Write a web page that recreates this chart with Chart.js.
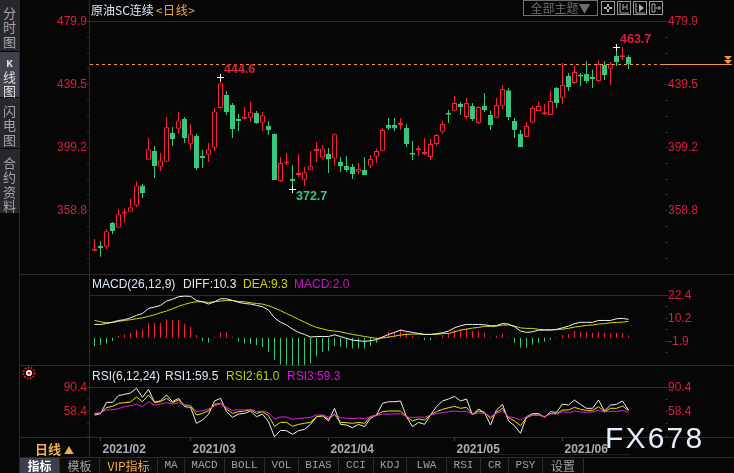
<!DOCTYPE html>
<html lang="zh">
<head>
    <meta charset="UTF-8">
    <title>原油SC连续 日线</title>
    <script src="https://cdn.jsdelivr.net/npm/chart.js"></script>
    <style>
        html, body { margin: 0; padding: 0; background: #060606; width: 734px; height: 473px; overflow: hidden; }
        body { position: relative; font-family: "Liberation Sans", Arial, sans-serif; font-size: 12px; }
        canvas { position: absolute; left: 0; }
        .abs { position: absolute; white-space: nowrap; }
        .hline { position: absolute; height: 1px; background: #2b2b2b; }
        .vline { position: absolute; width: 1px; background: #2b2b2b; }
        .side { position: absolute; left: 0; width: 19px; background: #26282d; color: #a4a4a4; text-align: center;
                font-family: "Noto Sans CJK SC"; font-size: 13px; line-height: 14.4px; box-sizing: border-box; }
        .tab { position: absolute; top: 458px; height: 15px; line-height: 15px; text-align: center; color: #a0a0a0;
               font-family: "Liberation Mono", monospace; font-size: 11px; border-right: 1px solid #2b2b2b; background: #0c0c0c; }
        .tab.cjk { font-family: "Noto Sans CJK SC"; font-size: 12px; }
        .ico { position: absolute; top: 1px; width: 12px; height: 12px; border: 1px solid #9a9a9a; }
    </style>
</head>
<body>
    <canvas id="mainChart" width="734" height="274" style="top:0"></canvas>
    <canvas id="macdChart" width="734" height="90" style="top:275px"></canvas>
    <canvas id="rsiChart" width="734" height="92" style="top:365px"></canvas>

    <div class="vline" style="left:89px;top:0;height:457px"></div>
    <div class="vline" style="left:19px;top:0;height:473px"></div>
    <div class="hline" style="left:20px;top:274px;width:714px"></div>
    <div class="hline" style="left:20px;top:365px;width:714px"></div>
    <div class="hline" style="left:20px;top:437px;width:714px"></div>
    <div class="hline" style="left:20px;top:457px;width:714px"></div>
    <div class="hline" style="left:493px;top:454px;width:137px;background:#222"></div>

    <div class="side" style="top:0;height:51px;padding-top:6px">分<br>时<br>图</div>
    <div class="side" style="top:52px;height:45px;background:#3f424a;color:#ddd;padding-top:3px"><b style="font:bold 11px 'Liberation Mono'">K</b><br>线<br>图</div>
    <div class="side" style="top:98px;height:50px;padding-top:6px">闪<br>电<br>图</div>
    <div class="side" style="top:149px;height:64px;padding-top:7px">合<br>约<br>资<br>料</div>

    <div class="abs" style="left:91px;top:2px;color:#dce8f4;font-family:'Noto Sans CJK SC';font-size:12px;line-height:15px">原油SC连续<span style="color:#f0a848;margin-left:2px;letter-spacing:0.6px">&lt;日线&gt;</span></div>

    <div class="abs" style="left:523px;top:0;width:73px;height:14px;border:1px solid #707070;color:#6c6c6c;font-family:'Noto Sans CJK SC';font-size:12px;line-height:14px;text-align:center">全部主题▼</div>
    <div class="ico" style="left:601px"><svg width="12" height="12"><path d="M6 2v3M6 7v3M2 6h3M7 6h3" stroke="#aaa" stroke-width="2"/></svg></div>
    <div class="ico" style="left:617px"><svg width="12" height="12"><path d="M2 1v10h9M5 2v6M9 2v6M5 5h4" stroke="#aaa" fill="none"/></svg></div>
    <div class="ico" style="left:633px"><svg width="12" height="12"><path d="M2 1v10h9" stroke="#aaa" fill="none"/><path d="M5 2l5 4-5 4z" fill="#aaa"/></svg></div>
    <div class="ico" style="left:649px"><svg width="12" height="12"><path d="M2 2h3v8h-3zM6 6h5M9 4v4" stroke="#aaa" fill="none"/></svg></div>

    <div class="abs" style="left:92px;top:277px;line-height:14px"><span style="color:#dce8f4">MACD(26,12,9)</span></div>
    <div class="abs" style="left:183px;top:277px;line-height:14px;color:#dce8f4">DIFF:10.3</div>
    <div class="abs" style="left:243px;top:277px;line-height:14px;color:#d4d400">DEA:9.3</div>
    <div class="abs" style="left:294px;top:277px;line-height:14px;color:#d010d0">MACD:2.0</div>

    <svg class="abs" style="left:22px;top:366px" width="15" height="14"><circle cx="7" cy="7" r="5.5" fill="none" stroke="#e02020" stroke-dasharray="1.5 1.5" stroke-width="2"/><circle cx="7" cy="7" r="3" fill="#fff"/><circle cx="7" cy="7" r="1.5" fill="#e02020"/></svg>
    <div class="abs" style="left:92px;top:369px;line-height:14px;color:#dce8f4">RSI(6,12,24)</div>
    <div class="abs" style="left:165px;top:369px;line-height:14px;color:#dce8f4">RSI1:59.5</div>
    <div class="abs" style="left:226px;top:369px;line-height:14px;color:#b4d400">RSI2:61.0</div>
    <div class="abs" style="left:287px;top:369px;line-height:14px;color:#e010e0">RSI3:59.3</div>

    <div class="abs" style="left:35px;top:440px;color:#f0b050;font-family:'Noto Sans CJK SC';font-weight:bold;font-size:13px;line-height:18px">日线 <span style="font-size:10px">▲</span></div>

    <div class="tab cjk" style="left:20px;width:39px;background:#3b3f4a;color:#fff;font-weight:bold">指标</div>
    <div class="tab cjk" style="left:60px;width:39px">模板</div>
    <div class="tab cjk" style="left:100px;width:57px;color:#f0b050">VIP指标</div>
    <div class="tab" style="left:158px;width:26px">MA</div>
    <div class="tab" style="left:185px;width:39px">MACD</div>
    <div class="tab" style="left:225px;width:39px">BOLL</div>
    <div class="tab" style="left:265px;width:33px">VOL</div>
    <div class="tab" style="left:299px;width:39px">BIAS</div>
    <div class="tab" style="left:339px;width:34px">CCI</div>
    <div class="tab" style="left:374px;width:32px">KDJ</div>
    <div class="tab" style="left:407px;width:39px">LWA</div>
    <div class="tab" style="left:447px;width:33px">RSI</div>
    <div class="tab" style="left:481px;width:27px">CR</div>
    <div class="tab" style="left:509px;width:33px">PSY</div>
    <div class="tab cjk" style="left:543px;width:40px">设置</div>

    <div class="abs" style="left:605px;top:420px;color:#e4eefa;font-size:30px;letter-spacing:2.2px;line-height:36px">FX678</div>

    <script>
        // 日K线数据 (开/高/低/收)
        const opens = [333.2,335.8,335.8,350.9,348.0,357.1,358.2,362.0,375.0,391.5,397.0,387.0,390.2,408.5,411.3,417.5,401.7,406.6,393.0,394.7,399.1,424.5,432.9,426.5,416.6,417.7,418.4,421.3,415.1,413.0,407.9,377.8,389.1,378.2,381.7,378.7,385.1,397.0,392.8,395.1,392.3,390.0,387.4,386.8,383.8,384.9,387.6,393.4,397.2,413.7,413.7,413.7,411.7,395.1,397.5,395.1,393.2,401.5,409.4,420.7,422.8,427.1,418.8,425.8,414.9,425.8,420.1,418.4,426.0,436.0,416.2,407.9,406.0,415.1,422.6,420.5,420.1,437.3,431.2,445.0,440.6,445.2,446.3,443.5,441.8,452.1,449.7,457.8,457.0,457.2];
        const highs = [340.7,339.4,346.9,351.6,359.7,360.3,366.7,377.6,375.9,405.3,400.2,395.7,418.8,412.4,422.0,418.8,414.3,407.9,397.7,402.1,424.5,444.6,435.4,427.7,420.7,425.2,428.4,422.6,422.0,416.2,408.3,393.2,395.7,388.1,395.1,386.8,397.0,402.8,400.9,398.9,408.3,393.2,393.8,388.7,389.3,393.2,394.5,398.3,411.7,418.1,418.1,418.1,414.3,403.4,400.2,405.3,404.7,407.9,416.2,423.3,432.2,428.4,430.9,427.7,425.8,434.1,423.0,430.9,439.3,437.3,418.1,410.5,415.6,425.8,428.4,427.1,436.0,438.0,453.3,446.9,451.4,446.9,454.6,448.9,455.3,454.6,454.0,463.7,463.6,458.5];
        const lows = [332.6,329.4,334.3,343.9,347.7,351.2,358.2,361.2,366.9,391.5,379.7,384.2,390.2,400.2,407.9,402.1,397.7,384.9,386.1,390.0,397.0,423.9,420.1,405.3,409.8,417.5,415.6,414.3,409.8,407.3,378.5,377.2,388.1,372.7,380.4,374.6,385.1,390.0,391.9,382.9,387.4,383.6,383.6,379.1,382.3,381.7,386.1,389.3,397.2,410.5,409.8,410.5,399.6,391.3,393.8,394.5,391.3,400.2,407.9,414.9,422.6,420.1,417.5,416.2,414.3,422.0,410.5,418.1,423.9,416.9,405.3,399.6,406.0,414.9,422.6,420.1,420.1,424.5,427.1,435.4,439.9,438.6,440.5,437.3,441.2,442.5,439.3,451.4,455.3,449.5];
        const closes = [334.1,335.0,345.6,345.8,356.5,357.5,361.0,375.0,370.1,398.1,387.4,391.0,412.2,404.7,416.6,405.3,407.7,386.1,392.6,398.1,422.4,440.3,422.0,411.1,416.2,418.1,421.8,414.9,419.9,410.5,378.5,389.3,389.5,377.8,382.1,383.4,387.2,397.4,398.7,391.9,407.7,387.4,384.9,382.3,385.5,381.7,391.9,397.0,410.5,411.5,411.5,414.1,401.5,394.7,397.9,395.5,401.5,407.3,414.3,420.3,427.7,425.2,427.7,417.5,425.2,423.3,413.7,426.5,436.7,418.8,410.5,399.6,413.0,424.5,425.8,420.9,429.0,427.7,439.3,438.0,447.6,444.8,441.8,443.1,452.7,445.7,452.7,454.0,457.4,452.5];

        // MACD
        const diffValues = [7.0,7.0,7.5,8.2,9.1,9.5,10.5,11.8,12.8,15.5,16.2,17.1,19.4,20.3,21.7,22.0,21.9,19.7,19.0,17.8,19.0,20.6,20.6,19.7,18.7,18.1,17.8,17.1,16.4,14.6,10.5,8.2,6.7,4.5,2.8,1.7,0.3,0.6,0.6,0.6,1.5,0.6,-0.4,-1.3,-1.6,-2.0,-1.6,-1.1,0.3,1.7,2.8,4.0,3.3,2.8,2.2,1.7,1.7,2.1,2.6,3.5,5.2,6.3,7.0,7.0,7.0,6.8,6.3,6.3,7.5,7.2,5.8,3.5,2.8,3.1,4.0,4.0,4.0,4.4,5.2,6.1,7.4,8.1,8.1,8.1,9.1,9.1,9.1,10.0,10.2,9.7];
        const deaValues = [9.1,8.4,7.9,8.1,8.6,9.1,9.5,10.0,10.5,11.3,12.1,13.2,14.1,15.3,16.6,17.6,18.5,19.0,19.0,18.7,19.0,19.4,19.7,19.7,19.2,19.0,18.5,18.1,17.8,16.9,15.7,14.3,12.8,11.3,9.7,8.2,6.7,5.4,4.7,3.8,3.5,3.1,2.4,1.7,1.2,0.6,0.1,-0.4,-0.2,0.3,0.8,1.4,1.7,1.9,1.9,1.7,1.7,1.7,2.1,2.2,3.1,4.0,4.5,5.1,5.4,6.0,6.0,6.1,6.7,6.7,6.1,5.2,4.9,4.9,4.4,4.2,4.2,4.2,4.5,4.9,5.6,6.0,6.5,6.7,7.2,7.4,7.9,8.1,8.2,8.6];
        const macdValues = [-4.5,-3.9,-3.1,-1.8,1.0,1.7,2.4,4.0,4.5,7.7,7.7,7.7,9.7,9.3,9.3,7.4,5.8,1.4,-1.8,-2.7,0.5,2.8,2.8,0.5,-2.0,-3.1,-3.4,-3.9,-5.0,-7.8,-11.9,-14.2,-14.9,-15.4,-15.4,-14.5,-13.7,-9.8,-7.8,-7.1,-4.3,-4.8,-5.4,-5.7,-5.7,-5.7,-4.3,-2.7,0.8,2.8,3.1,4.4,2.9,1.0,0.3,-1.3,-1.3,0.3,1.4,2.2,4.0,4.5,4.9,3.5,3.1,2.4,0.3,1.0,1.9,0.3,-2.9,-5.4,-5.4,-3.8,-2.9,-2.2,-1.1,0.3,1.4,1.9,3.5,3.1,2.8,2.4,2.9,2.4,2.2,2.4,2.4,1.2];

        // RSI
        const rsi1 = [54.1,55.9,70.7,70.7,79.5,81.2,83.0,89.1,77.3,87.8,70.7,72.9,80.4,71.6,76.0,65.1,64.2,43.2,47.6,55.0,72.5,76.0,58.5,51.1,55.4,56.3,59.4,51.9,55.4,45.4,25.7,34.0,33.6,28.8,33.6,35.3,41.9,51.9,53.3,46.3,62.9,41.9,41.0,37.5,41.9,38.8,49.8,54.1,69.4,71.6,71.6,72.5,51.9,38.8,44.5,41.9,54.1,65.1,72.5,75.1,78.6,72.5,75.1,54.1,62.0,57.2,41.0,60.7,68.1,46.3,40.2,30.1,51.9,55.9,55.9,51.1,58.5,57.6,68.5,67.2,73.8,68.1,62.9,62.9,73.8,59.4,67.2,68.1,72.5,60.7];
        const rsi2 = [55.9,56.8,63.7,65.5,69.4,70.3,71.2,77.7,71.6,80.4,70.7,71.6,76.0,70.3,73.8,67.2,66.4,54.1,56.3,59.8,68.1,69.4,62.0,56.3,58.5,59.4,61.1,56.3,58.5,53.3,39.3,44.5,44.5,39.3,41.9,43.2,44.5,51.9,52.8,48.9,55.0,44.5,44.1,43.2,44.5,43.2,51.9,54.1,58.5,59.4,59.4,59.4,51.9,46.3,48.9,47.6,54.1,58.5,61.6,63.7,65.5,62.9,64.2,55.0,59.4,57.6,49.8,57.6,62.9,50.6,46.3,40.2,50.6,54.1,54.1,51.9,55.9,55.9,60.7,60.7,64.2,61.6,60.2,60.2,65.1,58.5,62.9,62.9,65.9,59.8];
        const rsi3 = [56.3,57.2,60.7,61.1,62.4,65.1,66.4,68.1,65.1,71.6,67.2,68.5,70.3,68.5,70.3,66.8,66.8,58.5,59.8,62.0,65.9,69.0,64.2,60.2,61.1,60.7,61.6,58.5,59.4,57.2,48.9,51.5,51.5,48.4,49.8,50.2,51.1,54.1,54.1,51.5,55.0,50.6,49.8,49.3,50.2,49.3,51.9,53.3,55.4,55.4,55.4,55.9,51.9,50.6,51.5,51.1,54.1,55.9,57.2,58.5,59.4,58.5,58.9,55.0,56.8,56.3,51.9,56.3,59.4,51.9,50.6,47.6,51.9,54.1,54.1,51.9,55.9,55.4,58.5,57.2,59.4,58.1,57.6,58.1,60.2,58.1,58.9,58.9,60.2,57.6];

        // 坐标轴刻度
        const priceTicks = [479.9, 439.5, 399.2, 358.8];
        const priceMinor = [469.8, 459.7, 449.6, 429.4, 419.3, 409.2, 389.1, 379.0, 368.9, 348.7, 338.6, 328.5];
        const macdTicks = [22.4, 10.2, -1.9];
        const rsiTicks = [90.4, 58.4];
        const monthTicks = [1, 16, 39, 60, 78];
        const monthLabels = ['2021/02', '2021/03', '2021/04', '2021/05', '2021/06'];
        const lastPrice = 452.5;
        // 最高最低标注
        const markIndex = [21, 33, 87];
        const markPrice = [444.6, 372.7, 463.7];

        const RED = '#f5213f';
        const GREEN = '#37c77f';
        const LABEL_RED = '#d9213c';
        const indexes = opens.map((v, i) => i);
        const isUp = closes.map((c, i) => c >= opens[i]);

        // 横轴: 每根K线6像素, 与三个面板共用
        function xScale(showTicks) {
            return {
                type: 'linear', min: -0.75, max: 95.083, offset: false,
                display: showTicks, position: 'bottom',
                grid: { display: showTicks, drawOnChartArea: false, tickLength: 3, tickColor: '#444', offset: false },
                border: { display: false },
                afterBuildTicks: s => { s.ticks = monthTicks.map(v => ({ value: v })); },
                afterFit: s => { s.height = showTicks ? 19 : 0; },
                ticks: {
                    autoSkip: false, maxRotation: 0, align: 'start', labelOffset: 2, padding: 1,
                    color: '#a9aeb6', font: { family: 'Liberation Sans', size: 12, weight: 'bold' },
                    callback: v => monthLabels[monthTicks.indexOf(v)]
                }
            };
        }

        // 纵轴: 标注值之间带小刻度
        function yScale(position, majors, minors, min, max, width, showLabels = true) {
            return {
                position: position, min: min, max: max,
                border: { display: false },
                grid: {
                    drawOnChartArea: position === 'left',
                    color: c => c.tick && c.tick.value === majors[0] ? '#2c2c2c' : 'transparent',
                    borderDash: [4, 4], tickLength: 3, tickColor: showLabels ? '#2e2e2e' : 'transparent', tickBorderDash: []
                },
                afterBuildTicks: s => { s.ticks = majors.concat(minors).map(v => ({ value: v })); },
                afterFit: s => { s.width = width; s.paddingTop = 0; s.paddingBottom = 0; },
                ticks: {
                    autoSkip: false, padding: 0, color: LABEL_RED,
                    font: { family: 'Liberation Sans', size: 12 },
                    callback: v => showLabels && majors.includes(v) ? v.toFixed(1) : ''
                }
            };
        }

        // 高低点十字, 数字和最新价虚线
        const priceMarks = {
            id: 'priceMarks',
            afterDatasetsDraw(chart) {
                const { ctx, chartArea, scales: { x, y } } = chart;
                const lastY = Math.round(y.getPixelForValue(lastPrice)) + 0.5;
                ctx.save();
                ctx.strokeStyle = '#f09a3a';
                ctx.lineWidth = 1;
                ctx.setLineDash([3, 3]);
                ctx.beginPath(); ctx.moveTo(chartArea.left, lastY); ctx.lineTo(661, lastY); ctx.stroke();
                ctx.setLineDash([]);
                ctx.beginPath(); ctx.moveTo(661, lastY); ctx.lineTo(732, lastY); ctx.stroke();
                ctx.fillStyle = '#f09a3a';
                [56, 60].forEach(t => {
                    ctx.beginPath(); ctx.moveTo(724, t); ctx.lineTo(732, t); ctx.lineTo(728, t + 4); ctx.fill();
                });
                ctx.font = 'bold 12.5px "Liberation Sans"';
                ctx.textBaseline = 'middle';
                markIndex.forEach((idx, k) => {
                    const px = Math.floor(x.getPixelForValue(idx));
                    const py = Math.round(y.getPixelForValue(markPrice[k]));
                    ctx.strokeStyle = '#fff';
                    ctx.beginPath();
                    ctx.moveTo(px - 3, py + 0.5); ctx.lineTo(px + 4, py + 0.5);
                    ctx.moveTo(px + 0.5, py - 3); ctx.lineTo(px + 0.5, py + 4);
                    ctx.stroke();
                    const isLow = markPrice[k] === 372.7;
                    ctx.fillStyle = isLow ? GREEN : LABEL_RED;
                    ctx.textAlign = 'left';
                    ctx.fillText(markPrice[k].toFixed(1), px + 4, py + (isLow ? 8 : -7));
                });
                ctx.restore();
            }
        };

        new Chart(document.getElementById('mainChart'), {
            type: 'bar',
            plugins: [priceMarks],
            data: {
                labels: indexes,
                datasets: [
                    { // 影线
                        data: indexes.map(i => ({ x: i, y: [lows[i], highs[i]] })),
                        backgroundColor: isUp.map(u => u ? RED : GREEN),
                        barThickness: 1, borderSkipped: false, inflateAmount: 0, order: 2, grouped: false
                    },
                    { // 实体, 阳线空心
                        data: indexes.map(i => ({ x: i, y: [opens[i], closes[i]] })),
                        backgroundColor: isUp.map(u => u ? '#060606' : GREEN),
                        borderColor: isUp.map(u => u ? RED : GREEN),
                        borderWidth: 1, borderSkipped: false, inflateAmount: 0,
                        barThickness: 5, minBarLength: 2, order: 1, grouped: false
                    }
                ]
            },
            options: {
                responsive: false, animation: false,
                layout: { padding: 0 },
                plugins: { legend: { display: false }, tooltip: { enabled: false } },
                scales: {
                    x: xScale(false),
                    y: yScale('left', priceTicks, priceMinor, 318.3, 493.7, 90),
                    yr: yScale('right', priceTicks, priceMinor, 318.3, 493.7, 69)
                }
            }
        });

        new Chart(document.getElementById('macdChart'), {
            data: {
                labels: indexes,
                datasets: [
                    {
                        type: 'bar', data: indexes.map(i => ({ x: i, y: macdValues[i] })),
                        backgroundColor: macdValues.map(v => v >= 0 ? RED : GREEN),
                        barThickness: 1, inflateAmount: 0, order: 3
                    },
                    {
                        type: 'line', data: indexes.map(i => ({ x: i, y: deaValues[i] })),
                        borderColor: '#d8d800', borderWidth: 1, pointRadius: 0, tension: 0, order: 2
                    },
                    {
                        type: 'line', data: indexes.map(i => ({ x: i, y: diffValues[i] })),
                        borderColor: '#f4f4f4', borderWidth: 1, pointRadius: 0, tension: 0, order: 1
                    }
                ]
            },
            options: {
                responsive: false, animation: false,
                layout: { padding: 0 },
                plugins: { legend: { display: false }, tooltip: { enabled: false } },
                scales: {
                    x: xScale(false),
                    y: yScale('left', macdTicks, [], -14.5, 33.2, 90, false),
                    yr: yScale('right', macdTicks, [16.3, 4.1, -8.0], -14.5, 33.2, 69)
                }
            }
        });

        new Chart(document.getElementById('rsiChart'), {
            type: 'line',
            data: {
                labels: indexes,
                datasets: [
                    { data: indexes.map(i => ({ x: i, y: rsi1[i] })), borderColor: '#f0f0f0', borderWidth: 1, pointRadius: 0, tension: 0, order: 3 },
                    { data: indexes.map(i => ({ x: i, y: rsi2[i] })), borderColor: '#e8e800', borderWidth: 1, pointRadius: 0, tension: 0, order: 2 },
                    { data: indexes.map(i => ({ x: i, y: rsi3[i] })), borderColor: '#e81ce8', borderWidth: 1, pointRadius: 0, tension: 0, order: 1 }
                ]
            },
            options: {
                responsive: false, animation: false,
                layout: { padding: 0 },
                plugins: { legend: { display: false }, tooltip: { enabled: false } },
                scales: {
                    x: xScale(true),
                    y: yScale('left', rsiTicks, [74.4, 42.4, 26.4], 24.0, 119.7, 90),
                    yr: yScale('right', rsiTicks, [74.4, 42.4, 26.4], 24.0, 119.7, 69)
                }
            }
        });
    </script>
</body>
</html>
